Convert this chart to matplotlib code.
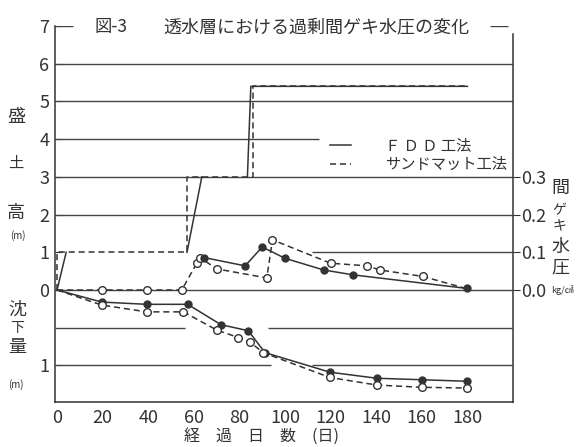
import matplotlib.pyplot as plt
import numpy as np

plt.rcParams['font.family'] = ['Noto Sans CJK JP', 'DejaVu Sans']

# 盛土高 (m)
fill_days_fdd = [0, 4, np.nan, 57, 63.5, np.nan, 83.5, 85, 180]
fill_fdd = [0, 1, np.nan, 1, 3, np.nan, 3, 5.4, 5.4]
fill_days_sm = [0, 0, 57, 57, 86, 86, 180]
fill_sm = [0, 1, 1, 3, 3, 5.4, 5.4]

# 間ゲキ水圧 (kg/cm2)
pp_days_fdd = [64.5, 82.5, 90, 100, 117, 130, 180]
pp_fdd = [0.086, 0.064, 0.114, 0.084, 0.053, 0.040, 0.004]
pp_days_sm = [0, 19.6, 39.3, 54.7, 61.3, 62.7, 70, 92, 94.5, 120, 136, 141.7, 160.4, 180]
pp_sm = [0, 0, 0, 0, 0.071, 0.086, 0.056, 0.032, 0.133, 0.071, 0.064, 0.053, 0.036, 0.003]

# 沈下量 (m)
st_days_fdd = [0, 19.6, 39.3, 57.3, 71.9, 83.9, 91.2, 119.7, 140.2, 160, 179.8]
st_fdd = [0, 0.16, 0.19, 0.19, 0.46, 0.54, 0.83, 1.09, 1.17, 1.19, 1.21]
st_days_sm = [0, 19.6, 39.3, 55.4, 70, 79.5, 84.6, 90.4, 119.7, 140.2, 160, 180]
st_sm = [0, 0.20, 0.29, 0.29, 0.53, 0.63, 0.69, 0.83, 1.16, 1.26, 1.29, 1.30]

x_ticks = list(range(0, 181, 20))
fill_ticks = list(range(0, 8))
pp_ticks = [0.0, 0.1, 0.2, 0.3]

ink = '#333333'
W, H = 576, 447


def fx(px):
    return px / W


def fy(py):
    return 1 - py / H


fig = plt.figure(figsize=(5.76, 4.47), dpi=100)
ax = fig.add_axes([fx(55), fy(402), (513 - 55) / W, (402 - 26) / H])
ax.set_xlim(-0.9, 200)
ax.set_ylim(-2.97, 7)

ax_s = ax.twinx()
ax_s.set_ylim(1.485, -3.5)
ax_p = ax.twinx()
ax_p.set_ylim(-0.297, 0.7)

# hand drawn grid segments
grid_kw = dict(color='#444444', lw=1.0)
for lev in [6, 5, 3, 2, 0]:
    ax.hlines(lev, -0.9, 200, **grid_kw)
ax.hlines(4, -0.9, 115, **grid_kw)
ax.hlines(1, 112, 200, **grid_kw)
ax.hlines(7, -0.9, 7, **grid_kw)
ax.hlines(7, 190, 198, **grid_kw)
ax_s.hlines(0.5, -0.9, 56, **grid_kw)
ax_s.hlines(0.5, 92.5, 200, **grid_kw)
ax_s.hlines(1.0, -0.9, 94, **grid_kw)
ax_s.hlines(1.0, 112, 200, **grid_kw)

dash = (0, (4, 2.5))
l_fdd, = ax.plot(fill_days_fdd, fill_fdd, color=ink, lw=1.1, label='Ｆ Ｄ Ｄ 工法')
l_sm, = ax.plot(fill_days_sm, fill_sm, color=ink, lw=1.1, ls=dash, label='サンドマット工法')

ax_p.plot(pp_days_sm, pp_sm, color=ink, lw=1.1, ls=dash, marker='o', ms=5.5,
          mfc='white', mec=ink, mew=1.0, markevery=list(range(1, 13)))
ax_p.plot(pp_days_fdd, pp_fdd, color=ink, lw=1.1, marker='o', ms=5, mfc=ink, mec=ink)

ax_s.plot(st_days_fdd, st_fdd, color=ink, lw=1.1, marker='o', ms=5, mfc=ink, mec=ink,
          markevery=list(range(1, len(st_fdd))))
ax_s.plot(st_days_sm, st_sm, color=ink, lw=1.1, ls=dash, marker='o', ms=5.5,
          mfc='white', mec=ink, mew=1.0, markevery=list(range(1, len(st_sm))))

# axes cosmetics
for a in (ax, ax_s, ax_p):
    a.spines['top'].set_visible(False)
for a in (ax_s, ax_p):
    for s in a.spines.values():
        s.set_visible(False)
for side in ('left', 'bottom', 'right'):
    ax.spines[side].set_color(ink)
    ax.spines[side].set_linewidth(1.1)
ax.spines['right'].set_bounds(-2.97, 6.8)

ax.set_xticks(x_ticks, labels=[str(t) for t in x_ticks])
ax.tick_params(axis='x', length=0, pad=5, labelsize=13, labelcolor=ink)
ax.set_yticks(fill_ticks, labels=[str(t) for t in fill_ticks])
ax.tick_params(axis='y', direction='in', length=5, color=ink, pad=4,
               labelsize=13, labelcolor=ink)

ax_s.yaxis.set_ticks_position('left')
ax_s.yaxis.set_label_position('left')
ax_s.set_yticks([1.0], labels=['1'])
ax_s.tick_params(axis='y', direction='in', length=5, color=ink, pad=4,
                 labelsize=13, labelcolor=ink)

ax_p.set_yticks(pp_ticks, labels=[f'{t:.1f}' for t in pp_ticks])
ax_p.tick_params(axis='y', direction='out', length=5, color=ink, pad=1,
                 labelsize=13, labelcolor=ink)

ax.legend(handles=[l_fdd, l_sm], loc='upper left', bbox_to_anchor=(0.6, 0.705),
          frameon=False, fontsize=11, handlelength=1.4, handletextpad=2.2,
          labelspacing=0.15, borderpad=0, borderaxespad=0, labelcolor=ink)

# title
fig.text(fx(95), fy(27), '図-3', fontsize=12.5, color=ink, va='center')
fig.text(fx(163), fy(27), '透水層における過剰間ゲキ水圧の変化', fontsize=13,
         color=ink, va='center')

# stacked axis labels
for ch, (x, y, s) in zip(['盛', '土', '高', '(m)'],
                         [(16, 117, 13), (16, 163, 11), (16, 213, 13), (18, 236, 7)]):
    fig.text(fx(x), fy(y), ch, fontsize=s, color=ink, ha='center', va='center')
for ch, (x, y, s) in zip(['沈', '下', '量', '(m)'],
                         [(17, 310, 13), (17, 328, 10), (17, 347, 13), (16, 385, 7)]):
    fig.text(fx(x), fy(y), ch, fontsize=s, color=ink, ha='center', va='center')
for ch, (x, y, s) in zip(['間', 'ゲ', 'キ', '水', '圧'],
                         [(560, 188, 13), (559, 210, 10), (559, 226, 10),
                          (560, 247, 13), (560, 267, 13)]):
    fig.text(fx(x), fy(y), ch, fontsize=s, color=ink, ha='center', va='center')
fig.text(fx(574), fy(290), 'kg/㎠', fontsize=6.5, color=ink, ha='right', va='center')

fig.text(fx(262), fy(437), '経　過　日　数　(日)', fontsize=11.5, color=ink,
         ha='center', va='center')

fig.savefig('out.png', dpi=100)
